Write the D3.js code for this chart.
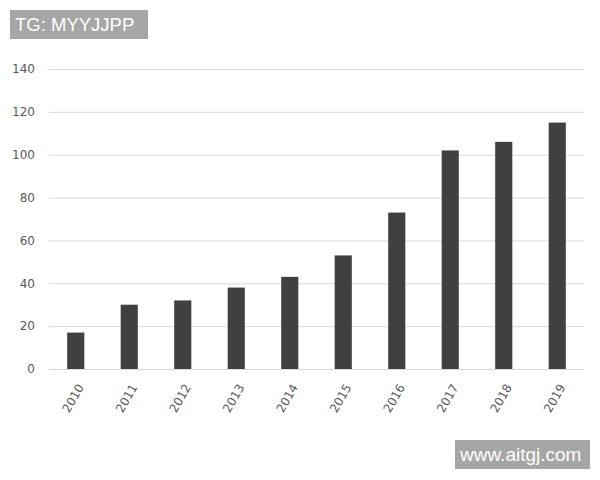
<!DOCTYPE html>
<html>
<head>
<meta charset="utf-8">
<script src="https://cdn.jsdelivr.net/npm/d3@7"></script>
<style>
  body { margin: 0; background: #fff; }
</style>
</head>
<body>
<script>
  const years = ["2010", "2011", "2012", "2013", "2014", "2015", "2016", "2017", "2018", "2019"];
  const values = [17, 30, 32, 38, 43, 53, 73, 102, 106, 115];
  const yTicks = [0, 20, 40, 60, 80, 100, 120, 140];

  const w = 600;
  const h = 480;
  const plotLeft = 49, plotRight = 584, plotTop = 69, plotBottom = 369;

  const svg = d3.select("body")
                .append("svg")
                .attr("width", w)
                .attr("height", h);

  const xScale = d3.scaleBand()
                   .domain(years)
                   .range([plotLeft, plotRight])
                   .paddingInner(0.68)
                   .paddingOuter(0.34);

  const yScale = d3.scaleLinear()
                   .domain([0, 140])
                   .range([plotBottom, plotTop]);

  // grid + y labels
  const yAxis = svg.append("g")
                   .attr("transform", `translate(${plotLeft},0)`)
                   .call(d3.axisLeft(yScale).tickValues(yTicks).tickSize(-(plotRight - plotLeft)).tickPadding(14));
  yAxis.select(".domain").remove();
  yAxis.selectAll(".tick line").attr("stroke", "#d9d9d9").attr("stroke-width", 1);
  yAxis.selectAll(".tick text")
       .attr("fill", "#595959")
       .style("font-family", "'DejaVu Sans', sans-serif")
       .style("font-size", "12px");

  svg.selectAll("rect.bar")
     .data(values)
     .enter()
     .append("rect")
     .attr("class", "bar")
     .attr("x", (d, i) => xScale(years[i]))
     .attr("y", (d) => yScale(d))
     .attr("width", xScale.bandwidth())
     .attr("height", (d) => yScale(0) - yScale(d))
     .attr("fill", "#404040");

  // x labels
  const xAxis = svg.append("g")
                   .attr("transform", `translate(0,${plotBottom})`)
                   .call(d3.axisBottom(xScale).tickSize(0).tickPadding(0));
  xAxis.select(".domain").remove();
  xAxis.selectAll(".tick text")
       .attr("fill", "#595959")
       .style("font-family", "'DejaVu Sans', sans-serif")
       .style("font-size", "12px")
       .attr("text-anchor", "end")
       .attr("dy", "0.35em")
       .attr("transform", "translate(5,16) rotate(-60)");

  // watermarks
  svg.append("rect").attr("x", 10).attr("y", 10).attr("width", 138).attr("height", 29).attr("fill", "#a6a6a6");
  svg.append("text").attr("x", 15).attr("y", 31).text("TG: MYYJJPP")
     .attr("fill", "#fff").style("font-family", "'Liberation Sans', Arial, sans-serif").style("font-size", "18.5px");

  svg.append("rect").attr("x", 455).attr("y", 440).attr("width", 135).attr("height", 29).attr("fill", "#a6a6a6");
  svg.append("text").attr("x", 460).attr("y", 461).text("www.aitgj.com")
     .attr("fill", "#fff").style("font-family", "'Liberation Sans', Arial, sans-serif").style("font-size", "19px");
</script>
</body>
</html>
